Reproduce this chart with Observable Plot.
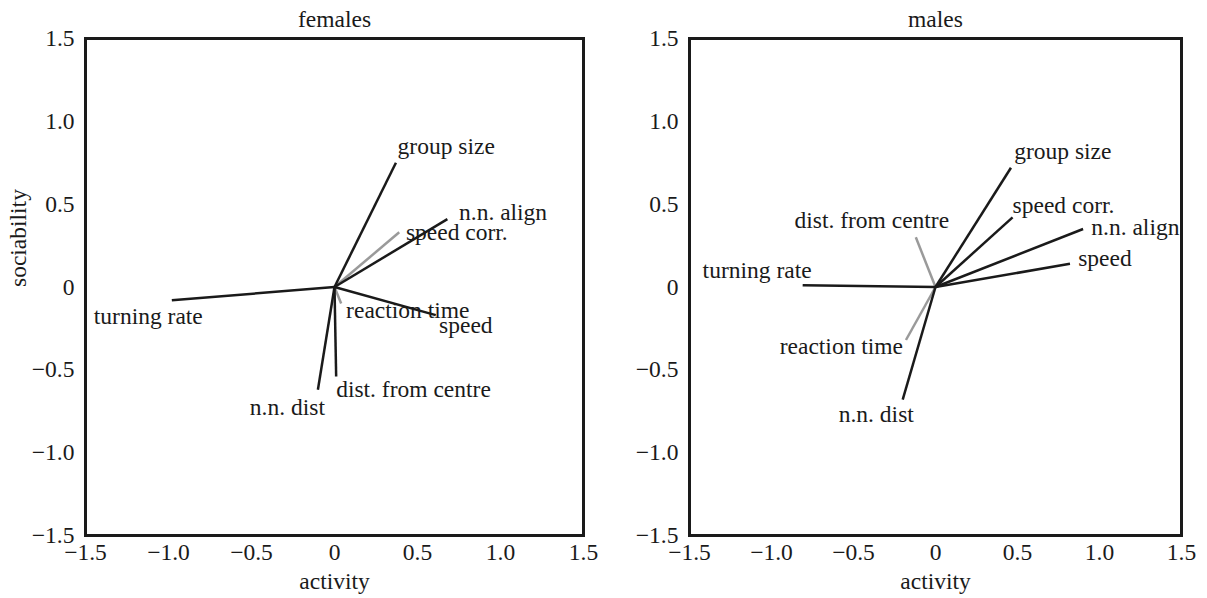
<!DOCTYPE html>
<html>
<head>
<meta charset="utf-8">
<script src="https://cdn.jsdelivr.net/npm/d3@7"></script>
<script src="https://cdn.jsdelivr.net/npm/@observablehq/plot@0.6"></script>
<style>
  html, body { margin: 0; padding: 0; background: #fff; }
  #wrap { display: flex; flex-direction: row; width: 1207px; height: 598px; }
</style>
</head>
<body>
<div id="wrap"></div>
<script>
// ---- data ----
const variables = ["group size", "n.n. align", "speed corr.", "speed", "reaction time", "turning rate", "n.n. dist", "dist. from centre"];

const femaleActivity    = [0.37, 0.68, 0.39, 0.61, 0.04, -0.98, -0.10, 0.01];
const femaleSociability = [0.75, 0.41, 0.33, -0.17, -0.10, -0.08, -0.62, -0.54];
const femaleGrey        = ["speed corr.", "reaction time"];
// label anchor (left edge, vertical middle) in data units
const femaleLabelX      = [0.38, 0.75, 0.43, 0.63, 0.07, -1.45, -0.51, 0.01];
const femaleLabelY      = [0.85, 0.45, 0.33, -0.23, -0.14, -0.18, -0.73, -0.62];

const maleActivity      = [0.46, 0.47, 0.90, 0.82, -0.18, -0.81, -0.20, -0.12];
const maleSociability   = [0.72, 0.42, 0.35, 0.14, -0.32, 0.01, -0.68, 0.30];
const maleGrey          = ["dist. from centre", "reaction time"];
const maleLabelX        = [0.48, 0.95, 0.47, 0.87, -0.95, -1.42, -0.59, -0.86];
const maleLabelY        = [0.82, 0.36, 0.49, 0.17, -0.36, 0.10, -0.77, 0.40];

const tickValues = [-1.5, -1.0, -0.5, 0, 0.5, 1.0, 1.5];
const axisDomain = [-1.5, 1.5];
const xTitle = "activity";
const yTitle = "sociability";

// ---- build ----
const FONT = "Liberation Serif, Times New Roman, serif";
const FS = 23.5;
const fmt = d => d === 0 ? "0" : d.toFixed(1).replace("-", "\u2212");

function rows(act, soc, grey, lx, ly) {
  return variables.map((v, i) => ({
    name: v, a: act[i], s: soc[i], grey: grey.includes(v), lx: lx[i], ly: ly[i]
  }));
}

function panel(title, data, opts) {
  const marks = [
    Plot.frame({stroke: "#1a1a1a", strokeWidth: 3}),
    Plot.link(data.filter(d => d.grey), {x1: 0, y1: 0, x2: "a", y2: "s", stroke: "#9a9a9a", strokeWidth: 2.5}),
    Plot.link(data.filter(d => !d.grey), {x1: 0, y1: 0, x2: "a", y2: "s", stroke: "#1a1a1a", strokeWidth: 2.5}),
    Plot.text(data, {x: "lx", y: "ly", text: "name", textAnchor: "start", fontSize: FS, fontFamily: FONT, fill: "#1a1a1a"}),
    Plot.text([title], {frameAnchor: "top", dy: -28, text: d => d, fontSize: FS, fontFamily: FONT, fill: "#1a1a1a"}),
    Plot.text([xTitle], {frameAnchor: "bottom", dy: 53, text: d => d, fontSize: FS, fontFamily: FONT, fill: "#1a1a1a"})
  ];
  if (opts.yTitle) {
    marks.push(Plot.text([yTitle], {frameAnchor: "left", dx: -67, rotate: -90, text: d => d, fontSize: FS, fontFamily: FONT, fill: "#1a1a1a"}));
  }
  return Plot.plot({
    width: opts.width,
    height: 598,
    marginLeft: opts.marginLeft,
    marginRight: opts.marginRight,
    marginTop: 38,
    marginBottom: 63,
    style: {fontFamily: FONT, fontSize: FS + "px", color: "#1a1a1a", background: "#fff", overflow: "visible"},
    x: {domain: axisDomain, ticks: tickValues, tickFormat: fmt, tickSize: 0, tickPadding: 8, label: null},
    y: {domain: axisDomain, ticks: tickValues, tickFormat: fmt, tickSize: 0, tickPadding: 11, label: null},
    marks
  });
}

const wrap = document.getElementById("wrap");
wrap.appendChild(panel("females",
  rows(femaleActivity, femaleSociability, femaleGrey, femaleLabelX, femaleLabelY),
  {width: 600, marginLeft: 85, marginRight: 17, yTitle: true}));
wrap.appendChild(panel("males",
  rows(maleActivity, maleSociability, maleGrey, maleLabelX, maleLabelY),
  {width: 607, marginLeft: 89, marginRight: 26, yTitle: false}));
</script>
</body>
</html>
